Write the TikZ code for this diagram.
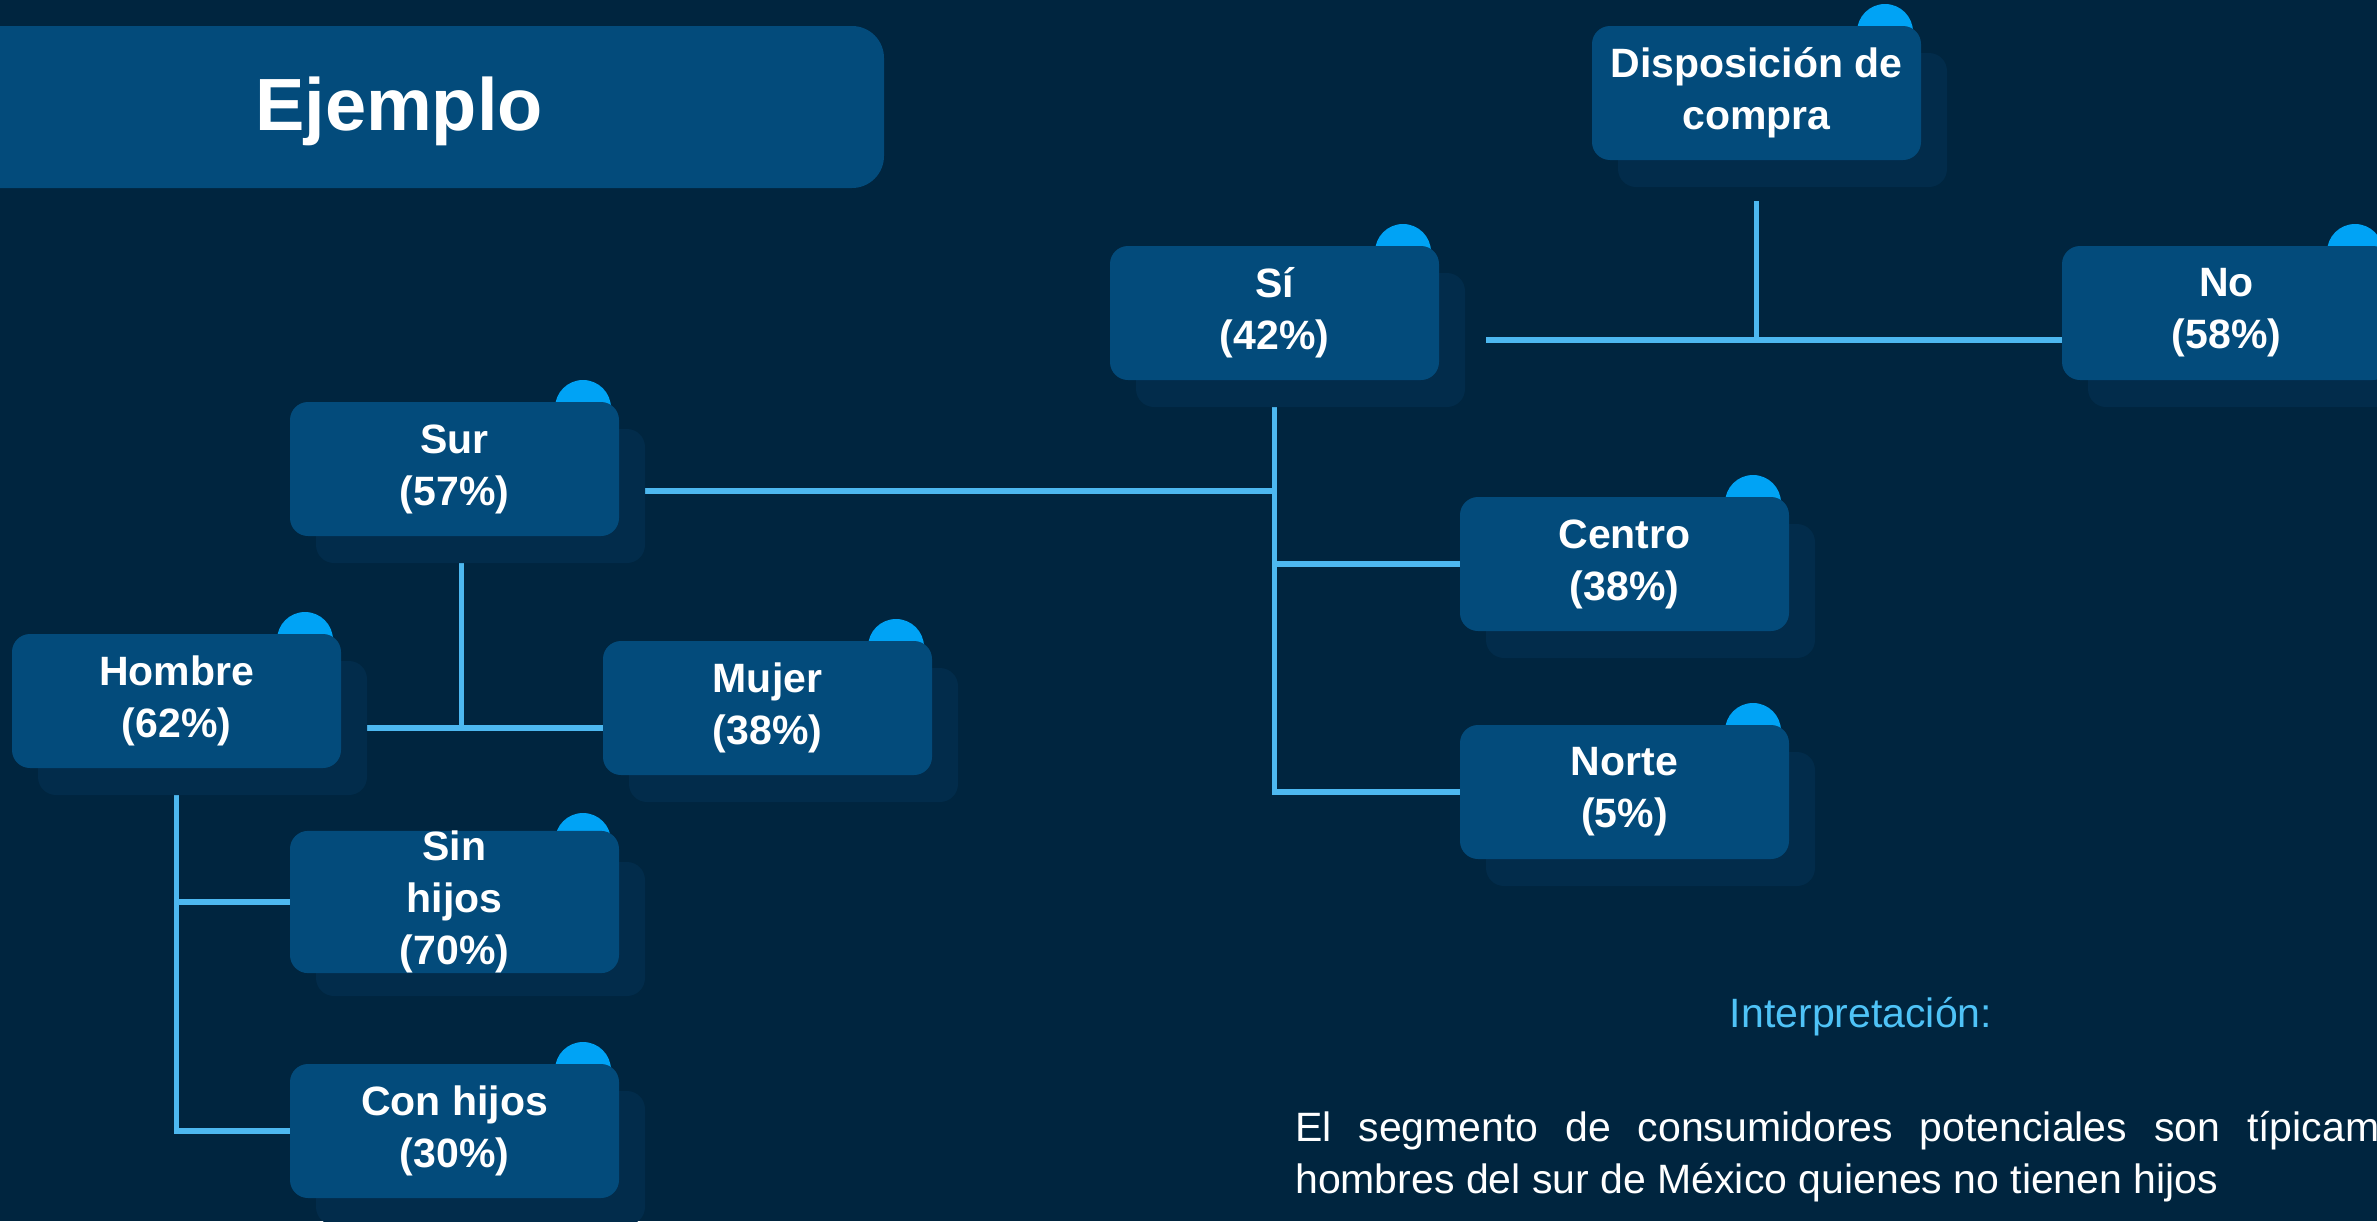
\documentclass[tikz,border=0pt]{standalone}
\usepackage{fontspec}
\setmainfont{Liberation Sans}
\usetikzlibrary{calc}
\definecolor{bgc}{HTML}{00253F}
\definecolor{boxc}{HTML}{034B7B}
\definecolor{shadc}{HTML}{022C4B}
\definecolor{dotc}{HTML}{00A3F5}
\definecolor{linec}{HTML}{4DB8F0}
\definecolor{interc}{HTML}{4FC3F7}
\newcommand{\lblfont}{\fontsize{41}{52}\selectfont\bfseries}
\newcommand{\bodyfont}{\fontsize{41}{52}\selectfont}
\pgfdeclarelayer{bg}
\pgfdeclarelayer{under}
\pgfsetlayers{bg,under,main}
\tikzset{
  frontbox/.style={rectangle, rounded corners=18pt, fill=boxc, minimum width=329pt,
    minimum height=134pt, inner sep=0pt, text=white, font=\lblfont, align=center},
  shadowbox/.style={rectangle, rounded corners=18pt, fill=shadc, minimum width=329pt,
    minimum height=134pt, inner sep=0pt},
  conn/.style={draw=linec, line width=5.5pt, line join=miter},
}
\newcommand{\dnode}[4]{%
  \node[shadowbox] (#1s) at (#2+26,#3+27) {};
  \node[frontbox] (#1) at (#2,#3) {#4};
  \begin{pgfonlayer}{under}
    \fill[dotc] (#2+128.5,#3-61) circle[radius=28pt];
  \end{pgfonlayer}
}
\begin{document}
\begin{tikzpicture}[x=1pt,y=-1pt]
\useasboundingbox (0,0) rectangle (2377,1221);
\clip (0,0) rectangle (2377,1221);
\begin{pgfonlayer}{bg}
  \fill[bgc] (0,0) rectangle (2377,1221);
\end{pgfonlayer}

% title
\node[fill=boxc, rounded corners=32pt, minimum width=944pt, minimum height=162pt,
  inner sep=0pt] (titlebox) at (412,107) {};
\node[anchor=base, text=white, font=\fontsize{74}{80}\selectfont\bfseries, inner sep=0pt]
  (title) at (399,130) {Ejemplo};

% nodes
\dnode{disp}{1756.5}{93}{Disposición de\\compra}
\dnode{si}{1274.5}{313}{Sí\\(42\%)}
\dnode{no}{2226.5}{313}{No\\(58\%)}
\dnode{sur}{454.5}{469}{Sur\\(57\%)}
\dnode{hombre}{176.5}{701}{Hombre\\(62\%)}
\dnode{mujer}{767.5}{708}{Mujer\\(38\%)}
\dnode{centro}{1624.5}{564}{Centro\\(38\%)}
\dnode{norte}{1624.5}{792}{Norte\\(5\%)}
\dnode{sinh}{454.5}{902}{Sin\\hijos\\(70\%)}
\dnode{conh}{454.5}{1131}{Con hijos\\(30\%)}

% connectors
\begin{pgfonlayer}{under}
  \draw[conn] ($(disp.south |- disps.south)+(0,14)$) -- (disp.south |- nos.west);
  \coordinate (sil) at ($(sis.east)+(21,0)$);
  \draw[conn] (sil |- nos.west) -- (nos.west);
  \draw[conn] (si.south |- sis.south) -- (si.south |- norte.west) -- (norte.west);
  \draw[conn] (si.south |- centro.west) -- (centro.west);
  \coordinate (surj) at ($(surs.east)+(0,-5)$);
  \draw[conn] (surj) -- (surj -| si.south);
  \coordinate (surv) at ($(sur.south |- surs.south)+(7,0)$);
  \draw[conn] (surv) -- (surv |- hombres.east);
  \draw[conn] (hombres.east) -- (mujer.west |- hombres.east);
  \draw[conn] (hombre.south |- hombres.south) -- (hombre.south |- conh.west) -- (conh.west);
  \draw[conn] (hombre.south |- sinh.west) -- (sinh.west);
\end{pgfonlayer}

% interpretation
\node[anchor=base, text=interc, font=\bodyfont, inner sep=0pt] (interp) at (1861,1027) {Interpretación:};
\node[anchor=base west, align=left, text=white, font=\bodyfont, inner sep=0pt] (body) at (1295,1193)
  {\makebox[1164pt][s]{El segmento de consumidores potenciales son típicamente}\\
   hombres del sur de México quienes no tienen hijos};
\end{tikzpicture}
\end{document}
